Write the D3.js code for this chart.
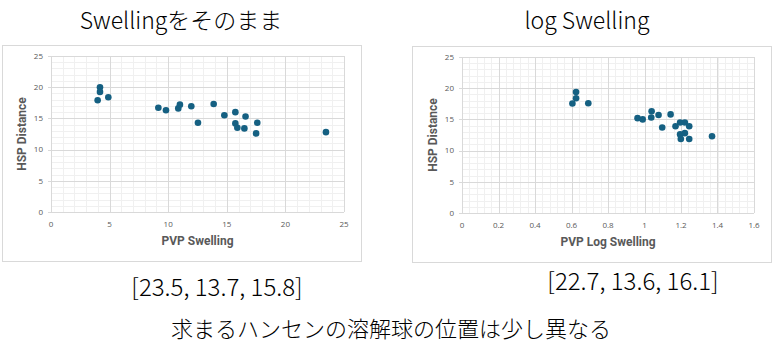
<!DOCTYPE html>
<html>
<head>
<meta charset="utf-8">
<script src="https://cdn.jsdelivr.net/npm/d3@7"></script>
<style>
  body { margin: 0; background: #fff; }
  svg text { font-family: "Noto Sans CJK JP", "Noto Sans", sans-serif; }
</style>
</head>
<body>
<div id="chart"></div>
<script>
// raw swelling vs HSP distance
const swelling = [4.18, 4.18, 3.98, 4.89, 9.16, 9.81, 10.86, 11.0, 11.97, 12.54,
  13.88, 14.79, 15.73, 15.73, 15.9, 16.6, 16.5, 17.6, 17.5, 23.46];
const distA = [20.0, 19.25, 17.9, 18.4, 16.7, 16.3, 16.6, 17.2, 16.95, 14.3,
  17.3, 15.5, 16.0, 14.2, 13.5, 15.3, 13.4, 14.3, 12.6, 12.8];

// log swelling vs HSP distance
const logSwelling = [0.605, 0.625, 0.625, 0.692, 0.962, 0.99, 1.037, 1.039, 1.077, 1.097,
  1.143, 1.17, 1.195, 1.221, 1.195, 1.221, 1.199, 1.245, 1.245, 1.37];
const distB = [17.56, 19.4, 18.4, 17.6, 15.2, 15.0, 15.3, 16.3, 15.7, 13.7,
  15.8, 13.9, 14.5, 14.5, 12.6, 12.8, 11.86, 11.86, 13.9, 12.3];

const xTicksA = [0, 5, 10, 15, 20, 25];
const xTicksB = [0, 0.2, 0.4, 0.6, 0.8, 1, 1.2, 1.4, 1.6];
const yTicks = [0, 5, 10, 15, 20, 25];

const titles = ["Swellingをそのまま", "log Swelling"];
const results = ["[23.5, 13.7, 15.8]", "[22.7, 13.6, 16.1]"];
const note = "求まるハンセンの溶解球の位置は少し異なる";

const width = 772, height = 363;
const svg = d3.select("#chart").append("svg")
  .attr("width", width).attr("height", height);

const panels = [
  { xs: swelling, ys: distA, xMax: 25, xTicks: xTicksA, minorX: 1, xLabel: "PVP Swelling",
    frame: [2, 45, 359, 216], plot: [51, 56, 344, 212], titleX: 181, resX: 217, resY: 288 },
  { xs: logSwelling, ys: distB, xMax: 1.6, xTicks: xTicksB, minorX: 0.04, xLabel: "PVP Log Swelling",
    frame: [412, 46, 359, 216], plot: [462, 57, 754, 213], titleX: 587, resX: 633, resY: 282 }
];

panels.forEach((p, k) => {
  const g = svg.append("g");
  g.append("rect")
    .attr("x", p.frame[0] + 0.5).attr("y", p.frame[1] + 0.5)
    .attr("width", p.frame[2]).attr("height", p.frame[3])
    .attr("fill", "#fff").attr("stroke", "#d9d9d9");

  const x = d3.scaleLinear().domain([0, p.xMax]).range([p.plot[0], p.plot[2]]);
  const y = d3.scaleLinear().domain([0, 25]).range([p.plot[3], p.plot[1]]);

  // minor grid
  const minorXs = d3.range(0, p.xMax + 1e-9, p.minorX);
  const minorYs = d3.range(0, 25.001, 1);
  g.append("g").selectAll("line").data(minorXs).join("line")
    .attr("x1", d => Math.round(x(d)) + 0.5).attr("x2", d => Math.round(x(d)) + 0.5)
    .attr("y1", y(0)).attr("y2", y(25))
    .attr("stroke", "#f0f0f0");
  g.append("g").selectAll("line").data(minorYs).join("line")
    .attr("y1", d => Math.round(y(d)) + 0.5).attr("y2", d => Math.round(y(d)) + 0.5)
    .attr("x1", x(0)).attr("x2", x(p.xMax))
    .attr("stroke", "#f0f0f0");

  // major grid
  g.append("g").selectAll("line").data(p.xTicks).join("line")
    .attr("x1", d => Math.round(x(d)) + 0.5).attr("x2", d => Math.round(x(d)) + 0.5)
    .attr("y1", y(0)).attr("y2", y(25))
    .attr("stroke", "#d9d9d9");
  g.append("g").selectAll("line").data(yTicks).join("line")
    .attr("y1", d => Math.round(y(d)) + 0.5).attr("y2", d => Math.round(y(d)) + 0.5)
    .attr("x1", x(0) - 3).attr("x2", x(p.xMax))
    .attr("stroke", "#d9d9d9");

  // tick labels
  g.append("g").selectAll("text").data(yTicks).join("text")
    .attr("x", x(0) - 8).attr("y", d => y(d)).attr("dy", "0.35em")
    .attr("text-anchor", "end").attr("font-size", 8).attr("fill", "#595959")
    .style("font-family", "'Open Sans', sans-serif")
    .text(d => d);
  g.append("g").selectAll("text").data(p.xTicks).join("text")
    .attr("x", d => x(d)).attr("y", y(0) + 12).attr("dy", "0.35em")
    .attr("text-anchor", "middle").attr("font-size", 8).attr("fill", "#595959")
    .style("font-family", "'Open Sans', sans-serif")
    .text(d => d);

  // axis titles
  g.append("text")
    .attr("x", (x(0) + x(p.xMax)) / 2).attr("y", y(0) + 29).attr("dy", "0.35em")
    .attr("text-anchor", "middle").attr("font-size", 12).attr("font-weight", "bold")
    .attr("fill", "#595959").style("font-family", "Roboto, sans-serif")
    .text(p.xLabel);
  g.append("text")
    .attr("transform", `translate(${p.plot[0] - 29},${(y(0) + y(25)) / 2}) rotate(-90)`)
    .attr("dy", "0.35em")
    .attr("text-anchor", "middle").attr("font-size", 12).attr("font-weight", "bold")
    .attr("fill", "#595959").style("font-family", "Roboto, sans-serif")
    .text("HSP Distance");

  // points
  g.append("g").selectAll("circle").data(p.xs.map((v, i) => [v, p.ys[i]])).join("circle")
    .attr("cx", d => x(d[0])).attr("cy", d => y(d[1])).attr("r", 3.3)
    .attr("fill", "#156082");

  // title and result
  svg.append("text")
    .attr("x", p.titleX).attr("y", 21).attr("dy", "0.35em")
    .attr("text-anchor", "middle").attr("font-size", 23).attr("fill", "#000")
    .attr("font-weight", 300)
    .text(titles[k]);
  svg.append("text")
    .attr("x", p.resX).attr("y", p.resY).attr("dy", "0.35em")
    .attr("text-anchor", "middle").attr("font-size", 24).attr("fill", "#000")
    .attr("font-weight", 300)
    .text(results[k]);
});

svg.append("text")
  .attr("x", 391).attr("y", 329).attr("dy", "0.35em")
  .attr("text-anchor", "middle").attr("font-size", 22).attr("fill", "#000")
  .attr("font-weight", 300)
  .text(note);
</script>
</body>
</html>
